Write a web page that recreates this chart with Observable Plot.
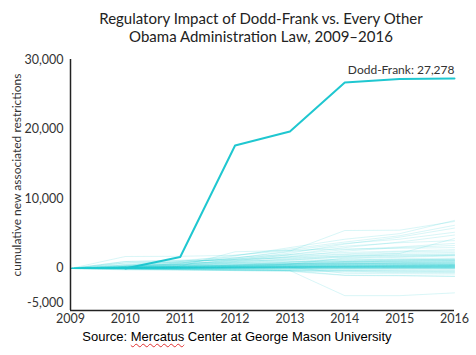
<!DOCTYPE html>
<html><head><meta charset="utf-8">
<script src="https://cdn.jsdelivr.net/npm/d3@7"></script>
<script src="https://cdn.jsdelivr.net/npm/@observablehq/plot@0.6"></script>
<style>
html,body{margin:0;padding:0;background:#fff;}
body{width:476px;height:355px;position:relative;overflow:hidden;font-family:Lato,"Open Sans",sans-serif;}
#title{position:absolute;left:0;top:9px;width:522px;text-align:center;font-size:15px;line-height:18px;color:#222;}
#chart{position:absolute;left:0;top:50px;}
#ylabel{position:absolute;left:16px;top:175px;transform:translate(-50%,-50%) rotate(-90deg);white-space:nowrap;font-size:12px;color:#333;}
#source{position:absolute;left:0;top:329px;width:474px;text-align:center;font-family:"Liberation Sans",Arial,sans-serif;font-size:13px;color:#000;}
#source .sp{text-decoration:underline wavy #e03030;text-decoration-thickness:1px;text-decoration-skip-ink:none;text-underline-offset:2px;}
</style>
</head><body>
<div id="title">Regulatory Impact of Dodd-Frank vs. Every Other<br>Obama Administration Law, 2009–2016</div>
<div id="chart"></div>
<div id="ylabel">cumulative new associated restrictions</div>
<div id="source">Source: <span class="sp">Mercatus</span> Center at George Mason University</div>
<script>
const years = [2009, 2010, 2011, 2012, 2013, 2014, 2015, 2016];
const doddFrankYears = [2010, 2011, 2012, 2013, 2014, 2015, 2016];
const doddFrank = [0, 1650, 17650, 19660, 26700, 27200, 27278];
const yTicks = [-5000, 0, 10000, 20000, 30000];
const yMin = -6030, yMax = 30000;

// every other Obama administration law (values 2009..2016)
const otherLaws = [
  [0, 300, 800, 1500, 2500, 5450, 5500, 6750],
  [0, 200, 700, 1800, 3000, 4200, 5000, 6900],
  [0, 400, 1000, 1900, 2800, 3800, 4700, 6200],
  [0, 100, 500, 1300, 2200, 3500, 4500, 5800],
  [0, 1720, 1750, 1900, 2600, 3600, 4200, 5200],
  [0, 250, 600, 1100, 2000, 3000, 3800, 4800],
  [0, 150, 400, 900, 1400, 1800, 2150, 4300],
  [0, 300, 800, 1500, 2400, 3200, 3700, 4000],
  [0, 1000, 1200, 1600, 2000, 2700, 3100, 3600],
  [0, 200, 500, 1000, 1700, 2500, 3000, 3300],
  [0, 100, 300, 2400, 2600, 2800, 2900, 3000],
  [0, 500, 900, 1400, 1900, 2300, 2500, 2700],
  [0, 800, 1100, 1300, 1700, 2100, 2400, 2500],
  [0, 200, 600, 1200, 1600, 2000, 2200, 2300],
  [0, 100, 300, 800, 1200, 1700, 2000, 2100],
  [0, 600, 1000, 1300, 1500, 1800, 1900, 2000],
  [0, 300, 700, 1000, 1300, 1600, 1800, 1900],
  [0, 100, 200, 500, 900, 1400, 1600, 1800],
  [0, 200, 400, 600, 900, 1200, 1400, 1500],
  [0, 100, 300, 500, 700, 1000, 1200, 1400],
  [0, 400, 600, 800, 1000, 1100, 1250, 1300],
  [0, 50, 150, 300, 600, 900, 1100, 1200],
  [0, 300, 500, 700, 800, 1000, 1100, 1150],
  [0, 100, 250, 450, 650, 850, 1000, 1100],
  [0, 200, 350, 500, 700, 850, 950, 1000],
  [0, 50, 100, 250, 500, 700, 850, 950],
  [0, 150, 300, 450, 600, 750, 850, 900],
  [0, 100, 200, 350, 500, 650, 780, 850],
  [0, 300, 400, 500, 600, 700, 760, 800],
  [0, 50, 150, 300, 450, 600, 700, 750],
  [0, 100, 200, 300, 400, 550, 650, 700],
  [0, 200, 300, 400, 500, 580, 630, 650],
  [0, 50, 100, 200, 350, 480, 560, 600],
  [0, 100, 150, 250, 350, 450, 520, 560],
  [0, 150, 250, 300, 400, 450, 500, 520],
  [0, 50, 100, 150, 250, 350, 430, 480],
  [0, 100, 150, 200, 300, 380, 420, 450],
  [0, 30, 80, 150, 250, 320, 380, 420],
  [0, 80, 120, 180, 250, 300, 350, 380],
  [0, 50, 100, 150, 200, 260, 310, 340],
  [0, 20, 60, 120, 180, 230, 280, 300],
  [0, 60, 100, 140, 180, 220, 250, 270],
  [0, 30, 60, 100, 150, 190, 220, 240],
  [0, 20, 50, 80, 120, 160, 190, 210],
  [0, 40, 70, 100, 130, 150, 170, 180],
  [0, 10, 30, 60, 90, 120, 140, 150],
  [0, 20, 40, 60, 80, 100, 110, 120],
  [0, 10, 20, 40, 60, 70, 80, 90],
  [0, 5, 15, 30, 40, 50, 55, 60],
  [0, 0, 10, 20, 25, 30, 30, 30],
  [0, 0, 0, 0, 0, 0, 0, 0],
  [0, -20, -40, -60, -80, -100, -110, -120],
  [0, -50, -80, -120, -160, -200, -230, -250],
  [0, -30, -100, -150, -200, -280, -320, -350],
  [0, -100, -150, -200, -250, -300, -400, -450],
  [0, -50, -100, -200, -300, -400, -500, -550],
  [0, -200, -250, -300, -350, -500, -600, -650],
  [0, -100, -200, -300, -400, -1000, -1050, -1100],
  [0, -50, -150, -250, -300, -950, -1000, -1150],
  [0, -100, -150, -200, -300, -3900, -3900, -3500],
  [0, 100, 200, 250, 200, -700, -750, -800],
  [0, 200, 300, 350, 300, 200, 150, 100],
  [0, 500, 600, 650, 700, 700, 650, 600],
  [0, 1000, 1100, 1150, 1200, 1250, 1300, 1300],
  [0, 800, 850, 900, 950, 1000, 1050, 1100],
  [0, 150, 250, 400, 600, 1500, 1700, 1900],
  [0, 50, 100, 200, 300, 400, 450, 500],
  [0, 30, 60, 100, 200, 300, 350, 400],
  [0, 100, 150, 200, 250, 300, 320, 330],
  [0, 20, 40, 80, 150, 250, 300, 320]
];

const others = otherLaws.flatMap((s, i) => s.map((v, j) => ({id: i, year: years[j], value: v})));
const df = doddFrank.map((v, j) => ({year: doddFrankYears[j], value: v}));
const fmt = d => d.toLocaleString("en-US");

const chart = Plot.plot({
  width: 476,
  height: 280,
  marginTop: 9,
  marginBottom: 20,
  marginLeft: 70,
  marginRight: 22,
  x: {domain: [2009, 2016]},
  y: {domain: [yMin, yMax]},
  style: {fontFamily: "Lato, sans-serif", fontSize: "12.5px", color: "#333", background: "#fff"},
  marks: [
    Plot.line(others, {x: "year", y: "value", z: "id", stroke: "#1fc7d0", strokeOpacity: 0.17, strokeWidth: 1}),
    Plot.line(df, {x: "year", y: "value", stroke: "#1fc7d0", strokeWidth: 2}),
    Plot.text([df[df.length - 1]], {x: "year", y: "value", text: d => `Dodd-Frank: ${fmt(d.value)}`, textAnchor: "end", dy: -8, fontSize: 12, fill: "#333"}),
    Plot.axisX({ticks: years, tickSize: 0, tickPadding: 4, tickFormat: d => String(d), label: null, fontSize: 12.5}),
    Plot.axisY({ticks: yTicks, tickSize: 0, tickPadding: 7, tickFormat: fmt, label: null, fontSize: 12.5}),
    Plot.ruleY([yMin], {stroke: "#222", strokeWidth: 1.5}),
    Plot.ruleX([2009], {stroke: "#222", strokeWidth: 1.5})
  ]
});
document.getElementById("chart").appendChild(chart);
</script>
</body></html>
